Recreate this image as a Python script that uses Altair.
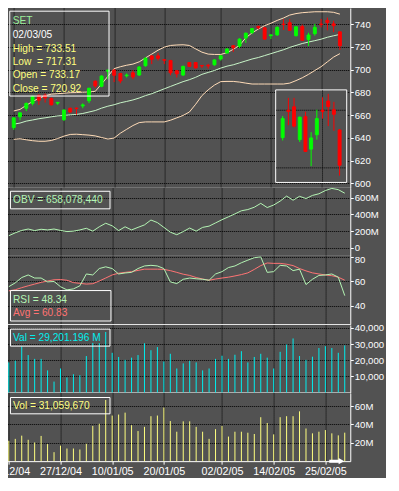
import altair as alt
import pandas as pd

# ---------------- data ----------------
dates = ["15/12/04", "16/12/04", "17/12/04", "20/12/04", "21/12/04", "22/12/04", "23/12/04", "24/12/04",
         "27/12/04", "28/12/04", "29/12/04", "30/12/04", "04/01/05", "05/01/05", "06/01/05", "07/01/05",
         "10/01/05", "11/01/05", "12/01/05", "13/01/05", "14/01/05", "17/01/05", "18/01/05", "19/01/05",
         "20/01/05", "21/01/05", "24/01/05", "25/01/05", "26/01/05", "27/01/05", "28/01/05", "31/01/05",
         "01/02/05", "02/02/05", "03/02/05", "04/02/05", "07/02/05", "08/02/05", "09/02/05", "10/02/05",
         "11/02/05", "14/02/05", "15/02/05", "16/02/05", "17/02/05", "18/02/05", "21/02/05", "22/02/05",
         "24/02/05", "25/02/05", "28/02/05", "01/03/05", "02/03/05"]
label_idx = [0, 8, 16, 24, 33, 41, 49]

open_ = [649.0, 658.5, 666.0, 670.3, 677.4, 677.5, 674.6, 670.5, 656.0, 666.0, 666.2, 668.0, 672.6, 689.8,
         685.3, 698.5, 699.5, 696.6, 694.5, 697.2, 695.2, 703.4, 712.0, 712.1, 708.7, 708.0, 699.0, 695.2,
         706.2, 706.2, 703.6, 703.8, 704.2, 709.3, 714.5, 721.0, 720.6, 727.7, 732.5, 738.0, 736.7, 729.8,
         730.5, 740.0, 741.2, 729.8, 737.8, 726.5, 731.5, 740.0, 743.2, 740.2, 733.17]
close = [657.6, 662.0, 670.3, 676.5, 673.0, 675.0, 669.0, 671.2, 664.5, 662.7, 665.8, 669.0, 683.6, 685.6,
         694.3, 699.5, 695.0, 690.0, 695.2, 693.5, 702.3, 709.9, 709.0, 709.9, 708.2, 697.2, 696.2, 702.8,
         702.8, 701.4, 703.2, 703.2, 708.5, 712.1, 718.0, 719.2, 726.8, 732.0, 736.0, 736.7, 726.8, 730.5,
         737.1, 739.6, 734.5, 737.6, 725.7, 730.4, 737.1, 739.6, 741.3, 738.6, 720.92]
high = [658.0, 662.5, 671.0, 677.0, 678.0, 679.0, 675.5, 671.5, 665.0, 666.5, 666.5, 670.3, 684.0, 690.5,
        695.0, 700.0, 700.5, 697.0, 696.6, 699.4, 703.0, 711.0, 712.5, 714.7, 708.8, 708.5, 699.5, 703.5,
        706.5, 706.5, 703.8, 705.0, 709.0, 712.7, 719.0, 721.5, 727.5, 732.5, 736.5, 738.5, 737.5, 730.8,
        738.0, 744.3, 744.3, 737.8, 739.5, 732.4, 740.2, 744.5, 745.7, 742.9, 733.51]
low = [647.0, 655.5, 663.5, 668.5, 669.0, 671.0, 668.5, 669.0, 654.8, 662.0, 660.4, 666.0, 670.5, 684.0,
       684.5, 691.5, 689.0, 688.0, 693.0, 691.5, 694.5, 702.5, 704.8, 707.9, 704.8, 695.0, 693.0, 694.3,
       702.3, 701.0, 701.4, 700.8, 703.4, 707.9, 714.2, 715.5, 719.0, 723.5, 731.0, 735.5, 726.0, 726.8,
       729.5, 734.8, 734.0, 729.0, 725.5, 720.6, 729.8, 737.1, 734.5, 732.9, 717.31]

upper = [663.6, 665.0, 668.6, 672.0, 674.6, 677.1, 678.4, 678.8, 679.2, 679.7, 679.8, 680.1, 680.3, 680.9,
         687.3, 694.0, 700.8, 702.5, 703.8, 704.8, 706.8, 710.2, 713.6, 717.0, 719.7, 721.2, 721.6, 721.8,
         721.2, 718.2, 715.3, 713.6, 713.3, 713.3, 714.8, 717.8, 721.2, 728.0, 732.2, 735.6, 738.6, 740.7,
         743.2, 745.3, 747.9, 749.2, 750.0, 750.4, 750.8, 750.8, 750.8, 750.3, 748.7]
middle = [652.0, 653.0, 654.7, 655.7, 656.8, 657.6, 658.5, 659.3, 659.7, 660.2, 660.6, 661.4, 662.7, 664.0,
          666.1, 667.8, 669.1, 670.8, 672.0, 673.3, 675.0, 677.1, 678.8, 680.9, 683.1, 685.2, 687.3, 689.4,
          691.1, 693.2, 695.8, 697.5, 699.2, 701.3, 703.0, 704.2, 705.9, 707.6, 709.3, 710.6, 712.3, 714.0,
          715.7, 717.4, 719.5, 721.2, 722.9, 724.2, 725.4, 726.7, 728.4, 729.7, 730.9]
lower = [638.7, 639.2, 638.3, 637.5, 637.0, 637.0, 637.7, 639.4, 641.5, 643.0, 643.2, 642.8, 642.4, 641.7,
         640.3, 639.0, 639.8, 644.1, 647.5, 650.8, 653.4, 654.0, 654.0, 654.0, 654.0, 655.5, 657.6, 659.7,
         662.7, 669.5, 677.1, 682.2, 686.4, 689.4, 689.6, 689.6, 689.0, 688.1, 687.3, 687.3, 687.3, 687.3,
         687.3, 687.3, 688.1, 690.3, 692.8, 695.8, 699.2, 702.5, 706.8, 711.0, 714.0]

obv = [143, 178, 207, 224, 205, 221, 213, 224, 207, 193, 198, 213, 233, 198, 251, 294, 263, 205, 251, 213,
       244, 274, 333, 302, 244, 186, 155, 193, 236, 198, 244, 259, 298, 337, 372, 407, 445, 460, 488, 535,
       484, 515, 562, 623, 573, 620, 593, 631, 651, 690, 716, 701, 658.07844]  # millions

rsi = [55.6, 58.7, 63.0, 65.1, 62.6, 62.6, 59.5, 59.8, 55.6, 53.0, 53.8, 56.3, 65.9, 65.1, 70.3, 71.7, 70.3,
       65.9, 66.7, 67.2, 70.3, 72.4, 72.9, 72.4, 70.3, 59.5, 58.1, 61.6, 62.6, 62.0, 61.6, 60.8, 65.9, 67.8,
       71.1, 72.4, 75.0, 77.1, 79.1, 79.7, 67.2, 67.8, 72.9, 72.4, 68.6, 69.8, 57.3, 61.6, 64.7, 65.1, 65.9,
       63.3, 48.34]
rsi_avg = [52.2, 53.1, 54.8, 56.3, 57.7, 59.1, 60.2, 61.2, 61.4, 60.8, 58.9, 58.3, 57.7, 58.0, 60.2, 62.6,
           65.1, 66.5, 67.2, 67.8, 68.8, 69.8, 69.8, 69.8, 69.6, 68.6, 67.2, 65.7, 64.7, 63.0, 61.8, 60.8,
           61.8, 62.6, 63.3, 64.3, 65.4, 66.8, 69.6, 72.7, 74.8, 74.5, 74.5, 73.8, 72.7, 70.3, 68.4, 66.8,
           65.9, 65.1, 64.5, 63.3, 60.83]

val = [18650, 19800, 28570, 23200, 20830, 20830, 13700, 6750, 14880, 9330, 11300, 10700, 22600, 30750, 30550,
       37500, 24600, 22020, 20240, 21600, 23200, 30550, 26200, 28170, 19230, 24000, 14880, 18040, 19640, 18650,
       13700, 14880, 20830, 22800, 20830, 23400, 25600, 18650, 22020, 24000, 21600, 14880, 25200, 29760, 33500,
       22600, 20240, 22200, 27560, 28750, 27560, 24600, 29201.196]  # million baht
vol = [22.2, 24.3, 27.8, 23.3, 20.4, 27.5, 18.6, 9.8, 16.9, 13.8, 13.8, 12.7, 19.0, 38.4, 40.8, 66.7, 49.7,
       50.8, 52.9, 39.2, 32.8, 37.4, 49.0, 49.7, 58.5, 43.7, 32.1, 43.4, 43.4, 37.4, 32.1, 24.3, 34.9, 38.4,
       26.8, 32.1, 32.1, 31.0, 29.6, 47.9, 41.6, 29.2, 47.9, 49.0, 49.0, 54.3, 35.6, 30.3, 32.1, 33.9, 30.3,
       28.1, 31.05967]  # million shares

price_ticks = [600, 620, 640, 660, 680, 700, 720, 740]
obv_ticks = [0, 200, 400, 600]
rsi_ticks = [40, 60, 80]
val_ticks = [10000, 20000, 30000, 40000]
vol_ticks = [20, 40, 60]
inset_first = 42
inset_grid_vals = [720, 740]
inset_grid_idx = [49]

# ---------------- styling ----------------
S = 0.96
W = 358 * S
BG = "#525252"
FONT = "Liberation Sans"
PEACH = "#ffdcb8"
MID = "#c8f5c8"
LGREEN = "#b4f5b4"
AVGC = "#ff7373"
UP = "#00ff00"
DOWN = "#ff0000"
CYAN = "#00eeee"
YEL = "#ffff80"
SETC = "#9cf09c"

GRID = dict(grid=True, gridColor="#000000", gridDash=[1, 1], gridWidth=1)

df = pd.DataFrame({
    "i": list(range(len(dates))), "date": dates, "open": open_, "high": high, "low": low, "close": close,
    "upper": upper, "middle": middle, "lower": lower, "obv": obv, "rsi": rsi, "avg": rsi_avg,
    "val": val, "vol": vol,
})
df["zero"] = 0
df["color"] = [UP if c >= o else DOWN for o, c in zip(open_, close)]

label_expr = "[" + ",".join("'%s'" % d for d in dates) + "][datum.value]"
XDOM = [-0.342, 52.854]


def xq(bottom=False):
    ax = alt.Axis(values=label_idx, domainColor="white", domainWidth=1, labels=bottom, ticks=bottom,
                  tickColor="white", tickSize=3, labelExpr=label_expr, labelColor="white", labelFont=FONT,
                  labelFontSize=11.2 * S, labelPadding=2, labelFlush=False, labelOverlap=False,
                  title=None, **GRID)
    return alt.X("i:Q", scale=alt.Scale(domain=XDOM, nice=False, zero=False), axis=ax)


def yq(field, domain, values, expr=None, fmt=None, offset=None):
    kw = dict(orient="right", values=values, domainColor="white", tickColor="white", tickSize=3,
              labelColor="white", labelFont=FONT, labelFontSize=10 * S, labelPadding=1,
              labelOverlap=False, labelFlush=False, title=None, **GRID)
    if expr:
        kw["labelExpr"] = expr
    if fmt:
        kw["format"] = fmt
    if offset is not None:
        kw["labelOffset"] = offset
    return alt.Y(f"{field}:Q", scale=alt.Scale(domain=domain, nice=False, zero=False), axis=alt.Axis(**kw))


dummy = pd.DataFrame({"a": [0]})


def box(x1, y1, x2, y2):
    return alt.Chart(dummy).mark_rect(fill="transparent", stroke="white", strokeWidth=1).encode(
        x=alt.value(x1 * S), x2=alt.value(x2 * S), y=alt.value(y1 * S), y2=alt.value(y2 * S))


def label(t, x, y, color, size=10.6):
    return alt.Chart(dummy).mark_text(text=t, align="left", baseline="middle", font=FONT,
                                      fontSize=size * S, color=color).encode(
        x=alt.value(x * S), y=alt.value(y * S))


base = alt.Chart(df)

# ---------------- price panel ----------------
PD = [596.1, 754.1]
bands = [base.mark_line(color=c, strokeWidth=1).encode(x=xq(), y=yq(f, PD, price_ticks))
         for f, c in [("upper", PEACH), ("middle", MID), ("lower", PEACH)]]
wick = base.mark_rule(strokeWidth=1).encode(
    x=xq(), y=yq("low", PD, price_ticks), y2="high:Q", color=alt.Color("color:N", scale=None))
body = base.mark_bar(size=3.0, strokeWidth=0.9).encode(
    x=xq(), y=yq("open", PD, price_ticks), y2="close:Q",
    color=alt.Color("color:N", scale=None), stroke=alt.Stroke("color:N", scale=None))

last = len(dates) - 1
price_notes = [
    box(3.3, 3.3, 106.7, 91.7),
    label("SET", 6.3, 14, SETC),
    label(dates[last], 6.3, 27.7, "white"),
    label(f"High = {high[last]:.2f}", 6.3, 42.7, YEL),
    label(f"Low \u00a0= {low[last]:.2f}", 6.3, 56.7, YEL),
    label(f"Open = {open_[last]:.2f}", 6.3, 70.3, YEL),
    label(f"Close = {close[last]:.2f}", 6.3, 84, YEL),
]
main = alt.layer(*bands, wick, body, *price_notes)

# inset (magnified last bars)
idf = df.iloc[inset_first:]
ib = alt.Chart(idf)
IXS = alt.Scale(domain=[41.65, 52.37], range=[280.3 * S, 354.3 * S], nice=False, zero=False)
IYS = alt.Scale(domain=[714.94, 747.07], range=[181.7 * S, 85.3 * S], nice=False, zero=False)
inset_bg = alt.Chart(dummy).mark_rect(fill=BG, stroke="white", strokeWidth=1).encode(
    x=alt.value(280.3 * S), x2=alt.value(354.3 * S), y=alt.value(85.3 * S), y2=alt.value(181.7 * S))
inset_h = alt.Chart(pd.DataFrame({"v": inset_grid_vals})).mark_rule(
    color="black", strokeDash=[1, 1], strokeWidth=1).encode(
    y=alt.Y("v:Q", scale=IYS, axis=None), x=alt.value(281 * S), x2=alt.value(353.6 * S))
inset_v = alt.Chart(pd.DataFrame({"i": inset_grid_idx})).mark_rule(
    color="black", strokeDash=[1, 1], strokeWidth=1).encode(
    x=alt.X("i:Q", scale=IXS, axis=None), y=alt.value(86 * S), y2=alt.value(181 * S))
inset_wick = ib.mark_rule(strokeWidth=1).encode(
    x=alt.X("i:Q", scale=IXS, axis=None), y=alt.Y("low:Q", scale=IYS, axis=None), y2="high:Q",
    color=alt.Color("color:N", scale=None))
inset_body = ib.mark_bar(size=3.0, strokeWidth=0.9).encode(
    x=alt.X("i:Q", scale=IXS, axis=None), y=alt.Y("open:Q", scale=IYS, axis=None), y2="close:Q",
    color=alt.Color("color:N", scale=None), stroke=alt.Stroke("color:N", scale=None))
inset = alt.layer(inset_bg, inset_h, inset_v, inset_wick, inset_body)

price = alt.layer(main, inset).resolve_scale(x="independent", y="independent").properties(
    width=W, height=187.3 * S)

# ---------------- OBV ----------------
OD = [-101.2, 720.9]
obv_c = alt.layer(
    base.mark_line(color=LGREEN, strokeWidth=1).encode(
        x=xq(), y=yq("obv", OD, obv_ticks, expr="datum.value == 0 ? '0' : datum.value + 'M'")),
    box(4, 3.4, 107.7, 21.7),
    label(f"OBV = {round(obv[last] * 1e6):,}", 6.7, 12.7, LGREEN),
).properties(width=W, height=70.7 * S)

# ---------------- RSI ----------------
RD = [25.21, 80.47]
rsi_off = {"condition": {"test": "datum.value == 80", "value": 3}, "value": 0}
rsi_c = alt.layer(
    base.mark_line(color=AVGC, strokeWidth=1).encode(x=xq(), y=yq("avg", RD, rsi_ticks, offset=rsi_off)),
    base.mark_line(color=LGREEN, strokeWidth=1).encode(x=xq(), y=yq("rsi", RD, rsi_ticks, offset=rsi_off)),
    box(4, 36, 108.7, 67.7),
    label(f"RSI = {rsi[last]:.2f}", 6.7, 46, LGREEN),
    label(f"Avg = {rsi_avg[last]:.2f}", 6.7, 59.4, AVGC),
).properties(width=W, height=71 * S)

# ---------------- Value ----------------
VD = [0, 41845]
val_c = alt.layer(
    base.mark_rule(color=CYAN, strokeWidth=1).encode(
        x=xq(), y=yq("val", VD, val_ticks, fmt=",d"), y2="zero:Q"),
    box(4, 4.3, 107.7, 22),
    label(f"Val = {val[last]:,.3f} M", 6.7, 13.7, CYAN),
).properties(width=W, height=70.3 * S)

# ---------------- Volume ----------------
ARROW = "M -1 -0.2 L 0.25 -0.2 L 0.25 -0.42 L 1 0 L 0.25 0.42 L 0.25 0.2 L -1 0.2 Z"
OLD = [0, 74.3]
vol_c = alt.layer(
    base.mark_rule(color=YEL, strokeWidth=1).encode(
        x=xq(bottom=True), y=yq("vol", OLD, vol_ticks, expr="datum.value + 'M'"), y2="zero:Q"),
    box(4, 4.7, 107.7, 21.7),
    label(f"Vol = {round(vol[last] * 1e6):,}", 6.7, 14, YEL),
    alt.Chart(dummy).mark_point(shape=ARROW, filled=True, color="white", opacity=1, size=225).encode(
        x=alt.value(343.9 * S), y=alt.value(71 * S)),
).properties(width=W, height=71 * S)

chart = alt.vconcat(price, obv_c, rsi_c, val_c, vol_c, spacing=0, bounds="flush").properties(
    background=BG, padding={"left": -20.4, "top": 0, "right": 2, "bottom": 2}
).configure_view(stroke=None, fill=BG)

chart.save("out.html", embed_options={"renderer": "svg", "actions": False})
